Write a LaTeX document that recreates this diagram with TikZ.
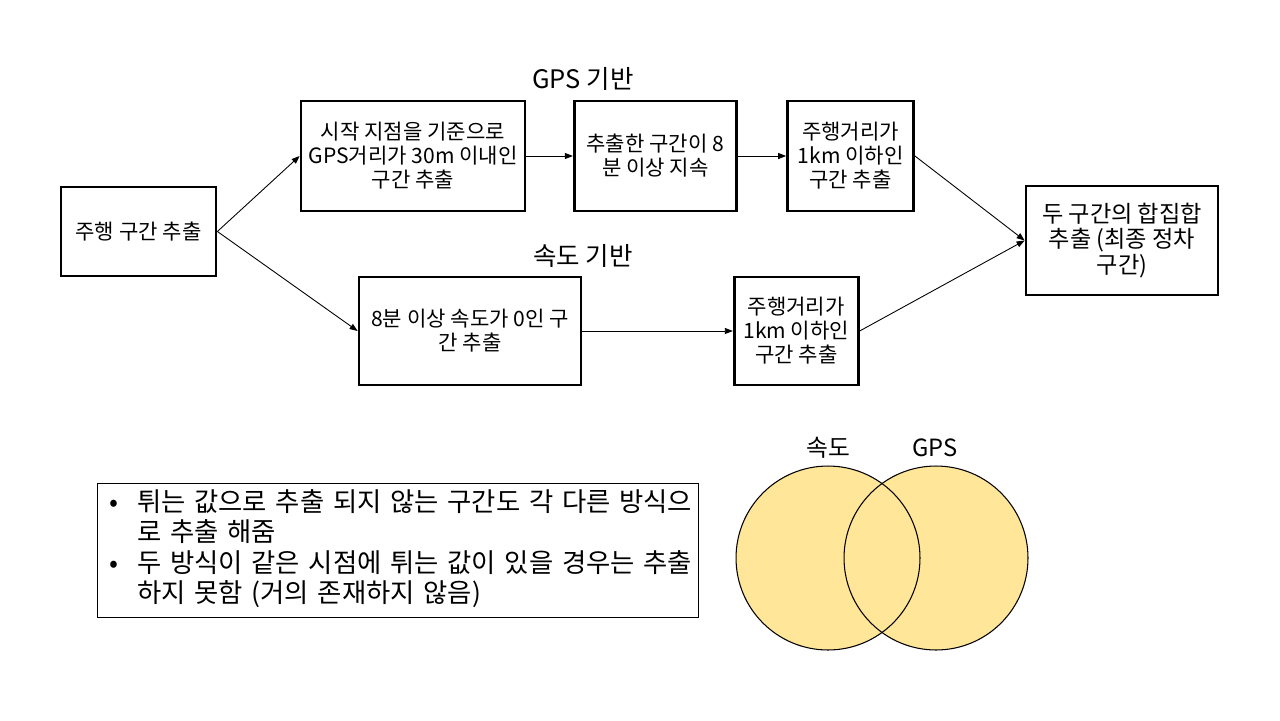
\documentclass[tikz,border=0pt]{standalone}
\usepackage{fontspec}
\setmainfont{Noto Sans CJK KR}
\usetikzlibrary{arrows.meta, positioning}
\definecolor{vennfill}{RGB}{255, 230, 153}

\begin{document}
\begin{tikzpicture}[
    x=0.02cm, y=-0.02cm,
    block/.style={rectangle, draw=black, line width=1.6pt, align=center, inner sep=2pt, font=\fontsize{12}{13.6}\selectfont},
    bigblock/.style={block, font=\fontsize{13.2}{14.7}\selectfont},
    arrow/.style={-{Triangle[length=1.6mm, width=1.2mm]}, line width=0.5pt},
    heading/.style={font=\fontsize{14.5}{16}\selectfont},
    vennset/.style={circle, fill=vennfill, minimum size=3.68cm, inner sep=0pt},
    notebox/.style={rectangle, draw=black, line width=0.6pt, text width=11.56cm, inner xsep=0.24cm, minimum height=2.54cm, align=left, font=\fontsize{15}{16.2}\selectfont}
]
    \useasboundingbox (0,0) rectangle (1280,720);

    \node [block, minimum width=3.1cm, minimum height=1.78cm] (drive) at (138.5,231.5) {주행 구간 추출};
    \node [block, minimum width=4.48cm, minimum height=2.2cm] (gpsnear) at (413,156) {시작 지점을 기준으로\\GPS거리가 30m 이내인\\구간 추출};
    \node [block, minimum width=3.24cm, minimum height=2.2cm, right=0.93cm of gpsnear] (gpsdur) {추출한 구간이 8\\분 이상 지속};
    \node [block, minimum width=2.52cm, minimum height=2.2cm, right=0.97cm of gpsdur] (gpsdist) {주행거리가\\1km 이하인\\구간 추출};
    \node [bigblock, minimum width=3.84cm, minimum height=2.18cm] (union) at (1122,240.5) {두 구간의 합집합\\추출 (최종 정차\\구간)};
    \node [block, minimum width=4.44cm, minimum height=2.16cm] (speedzero) at (470,331) {8분 이상 속도가 0인 구\\간 추출};
    \node [block, minimum width=2.48cm, minimum height=2.16cm, right=3.01cm of speedzero] (spddist) {주행거리가\\1km 이하인\\구간 추출};

    \node [heading] (gpstitle) at (583,79) {GPS 기반};
    \node [heading] (spdtitle) at (583,256) {속도 기반};

    \draw [arrow] (drive.east) -- (gpsnear.west);
    \draw [arrow] (drive.east) -- (speedzero.west);
    \draw [arrow] (gpsnear) -- (gpsdur);
    \draw [arrow] (gpsdur) -- (gpsdist);
    \draw [arrow] (gpsdist.east) -- (union.west);
    \draw [arrow] (speedzero) -- (spddist);
    \draw [arrow] (spddist.east) -- (union.west);

    % Note box
    \node [notebox] (note) at (398,550.5) {\begin{tabular}{@{}p{0.56cm}@{}l@{}}
        • & 튀는 값으로 추출 되지 않는 구간도 각 다른 방식으\\
          & 로 추출 해줌\\
        • & 두 방식이 같은 시점에 튀는 값이 있을 경우는 추출\\
          & 하지 못함 (거의 존재하지 않음)
    \end{tabular}};

    % Venn diagram
    \node [vennset] (spdset) at (828,558) {};
    \node [vennset] (gpsset) at (936,558) {};
    \foreach \s in {spdset, gpsset}
        \draw [line width=0.6pt] (\s.center) circle [radius=1.84cm];
    \node [heading, font=\fontsize{13.5}{15}\selectfont] (spdlabel) at (828,448) {속도};
    \node [heading, font=\fontsize{13.5}{15}\selectfont] (gpslabel) at (935,448) {GPS};

\end{tikzpicture}
\end{document}
